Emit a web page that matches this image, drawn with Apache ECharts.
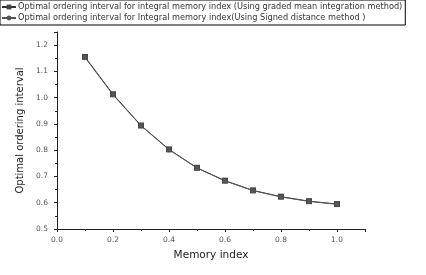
<!DOCTYPE html>
<html><head><meta charset="utf-8">
<script src="https://cdn.jsdelivr.net/npm/echarts@6/dist/echarts.min.js"></script>
<style>html,body{margin:0;padding:0;background:#fff}#c{width:426px;height:275px}</style>
</head><body><div id="c"></div>
<script>
const memoryIndex = [0.1, 0.2, 0.3, 0.4, 0.5, 0.6, 0.7, 0.8, 0.9, 1.0];
const gradedMean = [1.155, 1.013, 0.894, 0.803, 0.733, 0.684, 0.647, 0.623, 0.606, 0.595];
const signedDistance = [1.153, 1.011, 0.893, 0.802, 0.732, 0.683, 0.646, 0.622, 0.605, 0.594];
const seriesNames = [
  'Optimal ordering interval for integral memory index (Using graded mean integration method)',
  'Optimal ordering interval for Integral memory index(Using Signed distance method )'
];
const chart = echarts.init(document.getElementById('c'));
const font = 'DejaVu Sans, Verdana, sans-serif';
chart.setOption({
  animation: false,
  legend: {
    orient: 'vertical', left: 0, top: 0, padding: [3, 3, 3, 1],
    borderColor: '#000', borderWidth: 1,
    itemWidth: 14, itemHeight: 6, itemGap: 3,
    textStyle: { fontSize: 8.2, fontFamily: font, color: '#333', padding: [0, 0, 0, -3] },
    data: [seriesNames[0], seriesNames[1]]
  },
  grid: { left: 57, right: 61, top: 32, bottom: 46 },
  xAxis: {
    type: 'value', min: 0, max: 1.1, interval: 0.2,
    name: 'Memory index', nameLocation: 'middle', nameGap: 21,
    nameTextStyle: { fontSize: 10.5, fontFamily: font, color: '#222' },
    axisLine: { lineStyle: { color: '#222' } },
    axisTick: { length: 3, lineStyle: { color: '#222' } },
    minorTick: { show: true, splitNumber: 2, length: 2, lineStyle: { color: '#222' } },
    axisLabel: { fontSize: 7.5, fontFamily: font, color: '#555', margin: 7, showMaxLabel: false,
      formatter: v => v.toFixed(1) },
    splitLine: { show: false }
  },
  yAxis: {
    type: 'value', min: 0.5, max: 1.25, interval: 0.1,
    name: 'Optimal ordering interval', nameLocation: 'middle', nameGap: 31,
    nameTextStyle: { fontSize: 10, fontFamily: font, color: '#222' },
    axisLine: { show: true, lineStyle: { color: '#222' } },
    axisTick: { show: true, length: 3, lineStyle: { color: '#222' } },
    minorTick: { show: true, splitNumber: 2, length: 2, lineStyle: { color: '#222' } },
    axisLabel: { fontSize: 7.5, fontFamily: font, color: '#555', margin: 9, showMaxLabel: false,
      formatter: v => v.toFixed(1) },
    splitLine: { show: false }
  },
  series: [
    {
      name: seriesNames[0], type: 'line', symbol: 'rect', symbolSize: 6,
      data: memoryIndex.map((x, i) => [x, gradedMean[i]]),
      lineStyle: { color: '#333', width: 1 }, itemStyle: { color: '#444' }
    },
    {
      name: seriesNames[1], type: 'line', symbol: 'circle', symbolSize: 5,
      data: memoryIndex.map((x, i) => [x, signedDistance[i]]),
      lineStyle: { color: '#555', width: 1 }, itemStyle: { color: '#555' }
    }
  ]
});
</script></body></html>
